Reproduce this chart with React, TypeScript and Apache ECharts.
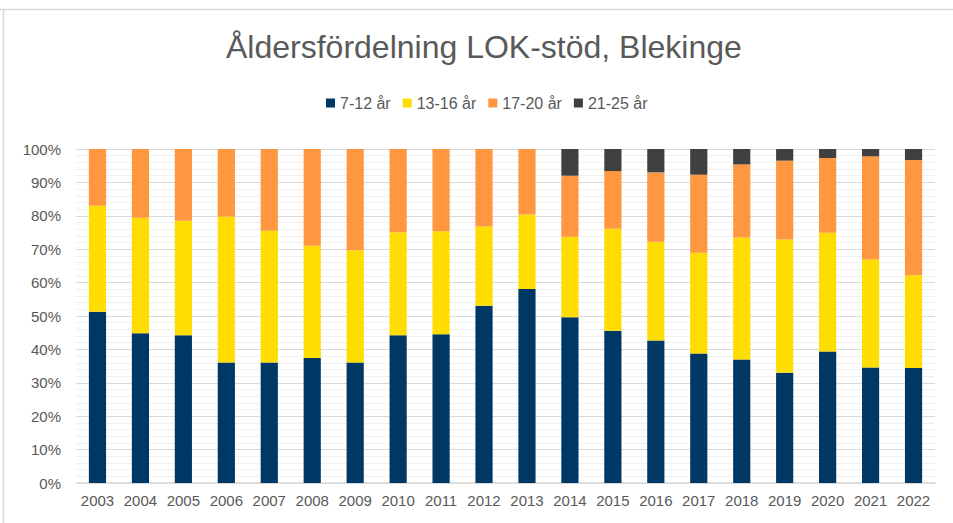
import React, { useEffect, useRef } from "react";
import * as echarts from "echarts";

const years = ["2003","2004","2005","2006","2007","2008","2009","2010","2011","2012","2013","2014","2015","2016","2017","2018","2019","2020","2021","2022"];
const age7to12 = [51.3,44.8,44.2,36.1,36.1,37.4,36.1,44.2,44.5,53.1,58.1,49.6,45.6,42.7,38.8,37.0,33.0,39.4,34.6,34.4];
const age13to16 = [31.7,34.6,34.3,43.7,39.4,33.6,33.6,30.9,30.9,23.7,22.3,24.1,30.5,29.5,30.1,36.5,39.9,35.5,32.3,27.8];
const age17to20 = [17.0,20.6,21.5,20.2,24.5,29.0,30.3,24.9,24.6,23.2,19.6,18.3,17.3,20.8,23.4,21.9,23.6,22.4,30.9,34.5];
const age21to25 = [0,0,0,0,0,0,0,0,0,0,0,8.0,6.6,7.0,7.7,4.6,3.5,2.7,2.2,3.3];
const seriesNames = ["7-12 år","13-16 år","17-20 år","21-25 år"];
const colors = ["#003865","#FFDD00","#FF9640","#404040"];

export default function App() {
  const ref = useRef<HTMLDivElement>(null);
  useEffect(() => {
    if (!ref.current) return;
    const chart = echarts.init(ref.current, null, { renderer: "svg" });
    const font = "Liberation Sans, Arial, sans-serif";
    const data = [age7to12, age13to16, age17to20, age21to25];
    chart.setOption({
      animation: false,
      backgroundColor: "#ffffff",
      title: {
        text: "Åldersfördelning LOK-stöd, Blekinge",
        left: 221,
        top: 26,
        textStyle: { fontFamily: font, fontSize: 32, fontWeight: "normal", color: "#595959" },
      },
      legend: {
        top: 90,
        left: 321,
        itemWidth: 9,
        itemHeight: 9,
        itemGap: 12,
        icon: "rect",
        textStyle: { fontFamily: font, fontSize: 16, color: "#595959" },
        data: seriesNames,
      },
      grid: { left: 76, right: 18, top: 149, bottom: 40, containLabel: false },
      xAxis: {
        type: "category",
        data: years,
        axisLine: { lineStyle: { color: "#d9d9d9", width: 1.5 } },
        axisTick: { show: false },
        axisLabel: { fontFamily: font, fontSize: 15, color: "#595959", margin: 10, interval: 0 },
      },
      yAxis: {
        type: "value",
        min: 0,
        max: 100,
        interval: 10,
        axisLine: { show: false },
        axisTick: { show: false },
        axisLabel: { fontFamily: font, fontSize: 15, color: "#595959", margin: 15, formatter: "{value}%" },
        splitLine: { lineStyle: { color: "#d9d9d9", width: 1 } },
        minorTick: { show: false, splitNumber: 5 },
        minorSplitLine: { show: true, lineStyle: { color: "#f0f0f0", width: 1 } },
      },
      series: data.map((d, i) => ({
        name: seriesNames[i],
        type: "bar",
        stack: "total",
        barWidth: "40%",
        data: d,
        itemStyle: { color: colors[i] },
      })),
      graphic: [
        { type: "line", shape: { x1: 0, y1: 9.5, x2: 953, y2: 9.5 }, style: { stroke: "#d9d9d9", lineWidth: 1.5 } },
        { type: "line", shape: { x1: 3.5, y1: 9.5, x2: 3.5, y2: 523 }, style: { stroke: "#d9d9d9", lineWidth: 1.5 } },
      ],
    });
    return () => chart.dispose();
  }, []);
  return <div ref={ref} style={{ position: "fixed", left: 0, top: 0, width: 953, height: 523 }} />;
}
